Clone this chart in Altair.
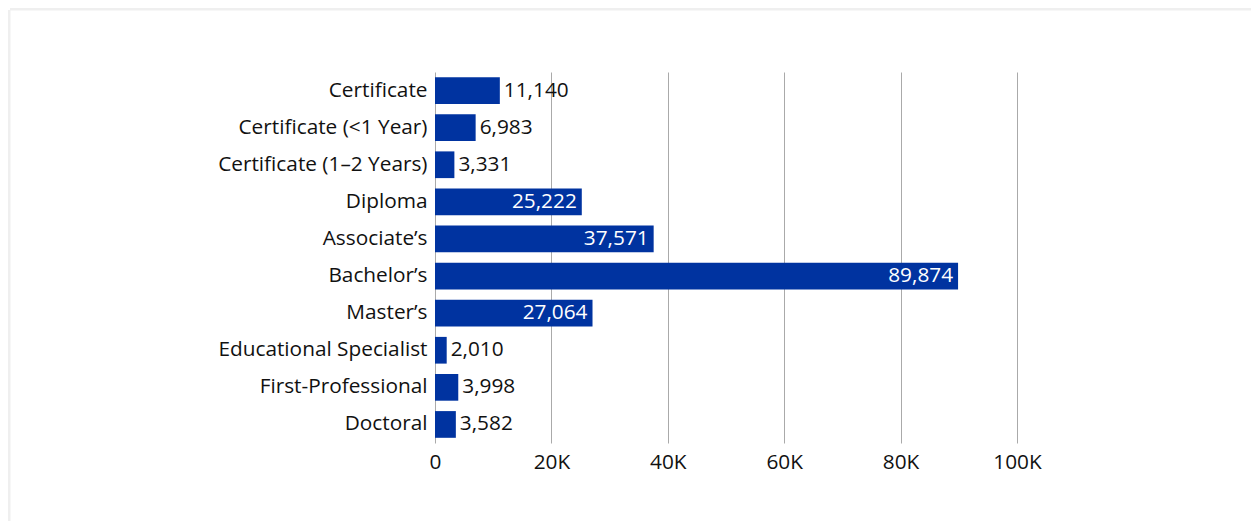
import altair as alt
import pandas as pd

categories = [
    "Certificate",
    "Certificate (<1 Year)",
    "Certificate (1–2 Years)",
    "Diploma",
    "Associate’s",
    "Bachelor’s",
    "Master’s",
    "Educational Specialist",
    "First-Professional",
    "Doctoral",
]
values = [11140, 6983, 3331, 25222, 37571, 89874, 27064, 2010, 3998, 3582]
x_ticks = [0, 20000, 40000, 60000, 80000, 100000]

df = pd.DataFrame({"category": categories, "value": values})
df["label"] = df["value"].map(lambda v: f"{v:,}")

FONT = "Open Sans"
FS = 20.8
BLUE = "#0033a0"
INSIDE_MIN = 20000

y_enc = alt.Y(
    "category:N",
    sort=categories,
    title=None,
    scale=alt.Scale(paddingInner=0.28, paddingOuter=0.14),
    axis=alt.Axis(
        domain=False, ticks=False, grid=False, labelPadding=8, labelFontSize=FS,
        labelFont=FONT, labelColor="#111111", labelLimit=400,
    ),
)
x_enc = alt.X(
    "value:Q",
    title=None,
    scale=alt.Scale(domain=[0, 100000], nice=False),
    axis=alt.Axis(
        values=x_ticks, domain=False, ticks=False, grid=True,
        gridColor="#aaaaaa", gridWidth=1, labelPadding=9, labelFontSize=FS,
        labelFont=FONT, labelColor="#111111", labelFlush=False,
        labelExpr="datum.value == 0 ? '0' : (datum.value / 1000) + 'K'",
    ),
)

base = alt.Chart(df)

bars = base.mark_bar(color=BLUE).encode(x=x_enc, y=y_enc)

outside = base.transform_filter(f"datum.value < {INSIDE_MIN}").mark_text(
    align="left", baseline="middle", dx=4, fontSize=FS, font=FONT, color="#111111"
).encode(x="value:Q", y=alt.Y("category:N", sort=categories), text="label:N")

inside = base.transform_filter(f"datum.value >= {INSIDE_MIN}").mark_text(
    align="right", baseline="middle", dx=-5, fontSize=FS, font=FONT, color="#ffffff"
).encode(x="value:Q", y=alt.Y("category:N", sort=categories), text="label:N")

# faint card edge (top and left shadow) of the surrounding panel
edge = alt.Chart(pd.DataFrame({"k": [0]}))
top_edge = edge.mark_rule(color="#efefef", strokeWidth=3).encode(
    x=alt.value(-425), x2=alt.value(830), y=alt.value(-63)
)
left_edge = edge.mark_rule(color="#efefef", strokeWidth=3).encode(
    x=alt.value(-426), y=alt.value(-62), y2=alt.value(460)
)

chart = (
    alt.layer(top_edge, left_edge, bars, outside, inside)
    .properties(
        width=582,
        height=371,
        background="#ffffff",
        autosize=alt.AutoSizeParams(type="none"),
        padding={"left": 427, "top": 64, "right": 234, "bottom": 78},
    )
    .configure_view(stroke="transparent", strokeWidth=0)
    .configure_axis(domain=False)
)

chart.save("out.html", embed_options={"renderer": "svg", "actions": False})
